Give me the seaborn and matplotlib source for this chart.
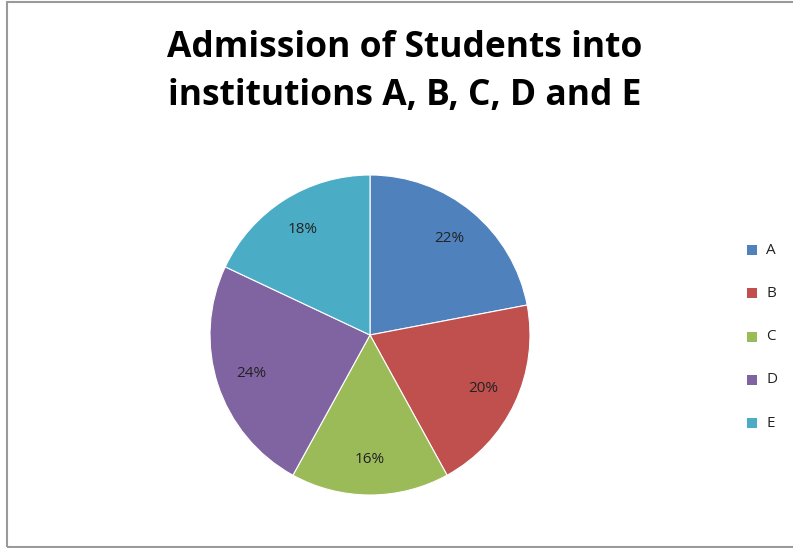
import matplotlib
matplotlib.use("Agg")
import matplotlib.pyplot as plt
import seaborn as sns
from matplotlib.patches import Rectangle

categories = ["A", "B", "C", "D", "E"]
values = [22, 20, 16, 24, 18]
colors = ["#4F81BD", "#C0504D", "#9BBB59", "#8064A2", "#4BACC6"]
title = "Admission of Students into\ninstitutions A, B, C, D and E"

sns.set_theme(style="white")
plt.rcParams['font.family'] = ['Open Sans', 'DejaVu Sans']
palette = sns.color_palette(colors)

W, H = 793, 548
fig = plt.figure(figsize=(W / 100, H / 100), dpi=100)
fig.patch.set_facecolor("white")

cx, cy, r = 370, 335, 160
ax = fig.add_axes([(cx - r) / W, (H - cy - r) / H, 2 * r / W, 2 * r / H])
wedges, texts, autotexts = ax.pie(
    values, colors=palette, startangle=90, counterclock=False,
    autopct="%d%%", pctdistance=0.78,
    wedgeprops=dict(edgecolor="white", linewidth=0.8),
    textprops=dict(fontsize=11, color="#222222"))
ax.set_xlim(-1, 1)
ax.set_ylim(-1, 1)
ax.set_aspect("equal")

fig.text(405 / W, 1 - 72 / H, title, ha="center", va="center",
         fontsize=25.5, fontweight="bold", color="black", linespacing=1.45)

# legend
for i, (c, lab) in enumerate(zip(palette, categories)):
    y = 250 + i * 43.3
    fig.patches.append(Rectangle((747 / W, 1 - (y + 5) / H), 10 / W, 10 / H,
                                 transform=fig.transFigure, facecolor=c, edgecolor="none"))
    fig.text(766 / W, 1 - y / H, lab, ha="left", va="center", fontsize=11, color="#222222")

# border
fig.patches.append(Rectangle((6.5 / W, 1.5 / H), (W + 10) / W, (H - 3) / H,
                             transform=fig.transFigure, facecolor="none",
                             edgecolor="#9a9a9a", linewidth=1.5))

fig.savefig("out.png", dpi=100)
